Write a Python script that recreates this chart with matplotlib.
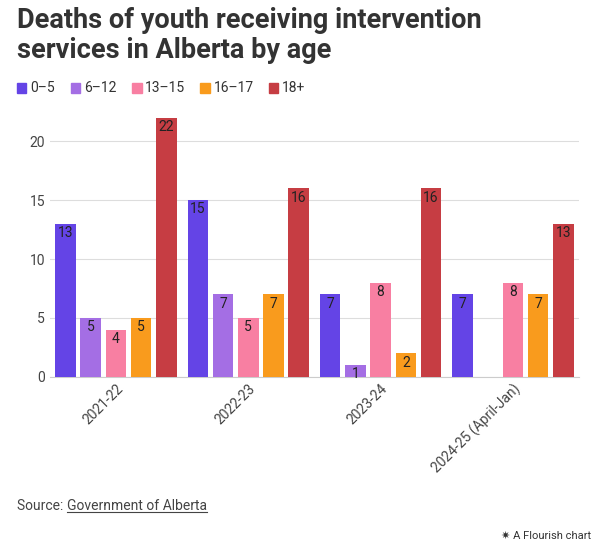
import matplotlib
matplotlib.use("Agg")
import matplotlib.pyplot as plt
import numpy as np

categories = ["2021-22", "2022-23", "2023-24", "2024-25 (April-Jan)"]
series = ["0–5", "6–12", "13–15", "16–17", "18+"]
v0_5 = [13, 15, 7, 7]
v6_12 = [5, 7, 1, None]
v13_15 = [4, 5, 8, 8]
v16_17 = [5, 7, 2, 7]
v18 = [22, 16, 16, 13]
values = [v0_5, v6_12, v13_15, v16_17, v18]
colors = ["#6444e6", "#a46ee4", "#f87fa2", "#f99b1d", "#c63d43"]

plt.rcParams['font.family'] = ['Roboto', 'DejaVu Sans']
fig = plt.figure(figsize=(6, 5.6), dpi=100)
ax = fig.add_axes([0.083, 0.327, 0.882, 0.463])

x = np.arange(len(categories))
w = 0.155
for i, (name, vals, c) in enumerate(zip(series, values, colors)):
    for j, v in enumerate(vals):
        if v is None:
            continue
        pos = x[j] + (i - 2) * w * 1.23
        ax.bar(pos, v, width=w, color=c, zorder=3)
        ax.text(pos, v - 0.2, str(v), ha='center', va='top', fontsize=10, color='#222222', zorder=4)

ax.set_ylim(0, 22)
ax.set_yticks([0, 5, 10, 15, 20])
ax.set_xlim(-0.5, 3.5)
ax.set_xticks(x)
ax.set_xticklabels(categories, rotation=45, ha='right', rotation_mode='anchor', fontsize=10, color='#444444')
ax.tick_params(axis='y', length=0, labelsize=10, labelcolor='#444444')
ax.tick_params(axis='x', length=0)
ax.grid(axis='y', color='#dddddd', lw=0.8, zorder=0)
for s in ['top', 'right', 'left']:
    ax.spines[s].set_visible(False)
ax.spines['bottom'].set_color('#cccccc')

fig.text(0.028, 0.988, "Deaths of youth receiving intervention\nservices in Alberta by age",
         fontsize=19.5, fontweight='bold', color='#333333', va='top', linespacing=1.15)

lx = 0.028
for name, c in zip(series, colors):
    fig.patches.append(plt.Rectangle((lx, 0.834), 0.016, 0.017, transform=fig.transFigure, color=c))
    t = fig.text(lx + 0.022, 0.842, name, fontsize=10, color='#333333', va='center')
    lx += 0.022 + 0.012 * len(name) + 0.032

fig.text(0.028, 0.097, "Source: ", fontsize=10, color='#444444', va='center')
fig.text(0.112, 0.097, "Government of Alberta", fontsize=10, color='#444444', va='center')
fig.add_artist(plt.Line2D([0.112, 0.345], [0.086, 0.086], transform=fig.transFigure, color='#444444', lw=0.8))
fig.text(0.985, 0.043, "✷ A Flourish chart", fontsize=8, color='#333333', ha='right', va='center')

fig.savefig("out.png", dpi=100, facecolor='white')
